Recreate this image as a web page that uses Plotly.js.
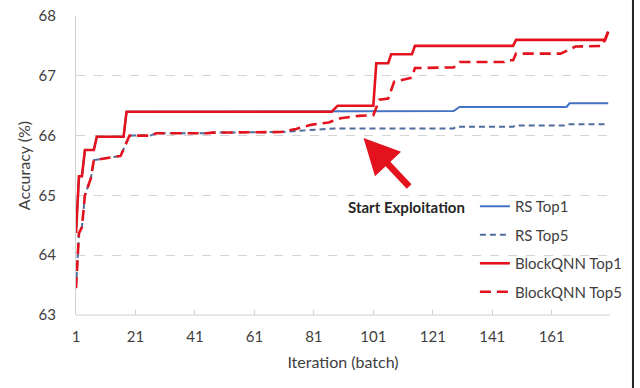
<!DOCTYPE html>
<html><head><meta charset="utf-8">
<script src="https://cdn.plot.ly/plotly-3.0.1.min.js"></script>
<style>html,body{margin:0;padding:0;background:#fff}#chart{width:640px;height:388px}</style>
</head><body><div id="chart"></div>
<script>
// BlockQNN Top1
const bq1X = [1,2,3,4,7,8,17,18,87,89,101,102,106,107,114,115,148,149,179,180];
const bq1Y = [64.37,65.32,65.32,65.76,65.76,65.98,65.98,66.40,66.40,66.50,66.50,67.21,67.21,67.36,67.36,67.50,67.50,67.60,67.60,67.74];
// BlockQNN Top5
const bq5X = [1,2,3,4,6,7,16,19,26,28,45,47,70,75,80,86,90,96,101,103,106,108,114,115,128,130,145,146,148,149,164,169,178,180];
const bq5Y = [63.45,64.37,64.47,65.0,65.29,65.59,65.66,66.0,66.0,66.04,66.04,66.05,66.06,66.11,66.18,66.22,66.29,66.33,66.34,66.6,66.62,66.9,66.97,67.13,67.14,67.23,67.23,67.26,67.26,67.37,67.37,67.49,67.50,67.74];
// RS Top1
const rs1X = [1,2,3,4,7,8,17,18,128,130,166,167,180];
const rs1Y = [64.37,65.32,65.32,65.76,65.76,65.98,65.98,66.40,66.41,66.48,66.48,66.54,66.54];
// RS Top5
const rs5X = [1,2,3,4,6,7,16,19,26,28,45,47,70,80,88,128,129,148,149,166,167,180];
const rs5Y = [63.45,64.37,64.47,65.0,65.29,65.59,65.66,66.0,66.0,66.04,66.04,66.05,66.06,66.09,66.12,66.12,66.15,66.15,66.17,66.17,66.19,66.19];

const seriesNames = ["RS Top1","RS Top5","BlockQNN Top1","BlockQNN Top5"];
const xTicks = [1,21,41,61,81,101,121,141,161];
const yTicks = [63,64,65,66,67,68];

const RED = "#e3121c", BLUE = "#4472c4", BLUE2 = "#4f6c9c";
const font = "Lato, 'Open Sans', sans-serif";

const traces = [
  {x: rs1X, y: rs1Y, name: seriesNames[0], legendgroup: "a", mode: "lines", line: {color: BLUE, width: 2}},
  {x: rs5X, y: rs5Y, name: seriesNames[1], legendgroup: "b", mode: "lines", line: {color: BLUE2, width: 2, dash: "6px,4px"}},
  {x: bq1X, y: bq1Y, name: seriesNames[2], legendgroup: "c", mode: "lines", line: {color: RED, width: 2.6}},
  {x: bq5X, y: bq5Y, name: seriesNames[3], legendgroup: "d", mode: "lines", line: {color: RED, width: 2.6, dash: "11px,6px"}}
];

const layout = {
  width: 640, height: 388,
  margin: {l: 76, r: 27, t: 16, b: 73},
  paper_bgcolor: "#fff", plot_bgcolor: "#fff",
  font: {family: font, size: 15, color: "#404040"},
  showlegend: true,
  legend: {x: 0.747, y: 0.418, xanchor: "left", yanchor: "top", bgcolor: "rgba(0,0,0,0)",
           traceorder: "grouped", tracegroupgap: 6, font: {size: 15, color: "#404040"}},
  xaxis: {range: [1, 180.6], tickvals: xTicks, ticktext: xTicks.map(String),
          showgrid: false, zeroline: false, showline: false,
          ticks: "inside", ticklen: 5, tickcolor: "#d0d0d0", ticklabelstandoff: 11,
          tickfont: {size: 15, color: "#404040"},
          title: {text: "Iteration (batch)", font: {size: 16, color: "#404040"}, standoff: 12}},
  yaxis: {range: [63, 68], tickvals: yTicks, ticktext: yTicks.map(String),
          showgrid: true, gridcolor: "#d4d4d4", griddash: "dash", gridwidth: 1,
          zeroline: false, showline: true, linecolor: "#d0d0d0", linewidth: 1,
          ticks: "", ticklabelstandoff: 16, tickfont: {size: 15, color: "#404040"},
          title: {text: "Accuracy (%)", font: {size: 16, color: "#404040"}, standoff: 3}},
  shapes: [
    {type: "line", xref: "paper", yref: "paper", x0: 0, x1: 1, y0: 0, y1: 0, line: {color: "#d0d0d0", width: 1}},
    {type: "line", xref: "paper", yref: "paper", x0: 1.043, x1: 1.043, y0: -0.25, y1: 1.06, line: {color: "#222", width: 2}}
  ],
  annotations: [
    {x: 97.7, y: 65.96, xref: "x", yref: "y", text: "", showarrow: true,
     ax: 47, ay: 50, arrowcolor: RED, arrowwidth: 6.5, arrowhead: 2, arrowsize: 1.1, standoff: 0},
    {x: 112, y: 64.81, xref: "x", yref: "y", text: "<b>Start Exploitation</b>", showarrow: false,
     font: {size: 15, color: "#262626", family: font}}
  ]
};

Plotly.newPlot("chart", traces, layout, {displayModeBar: false, staticPlot: true});
</script></body></html>
